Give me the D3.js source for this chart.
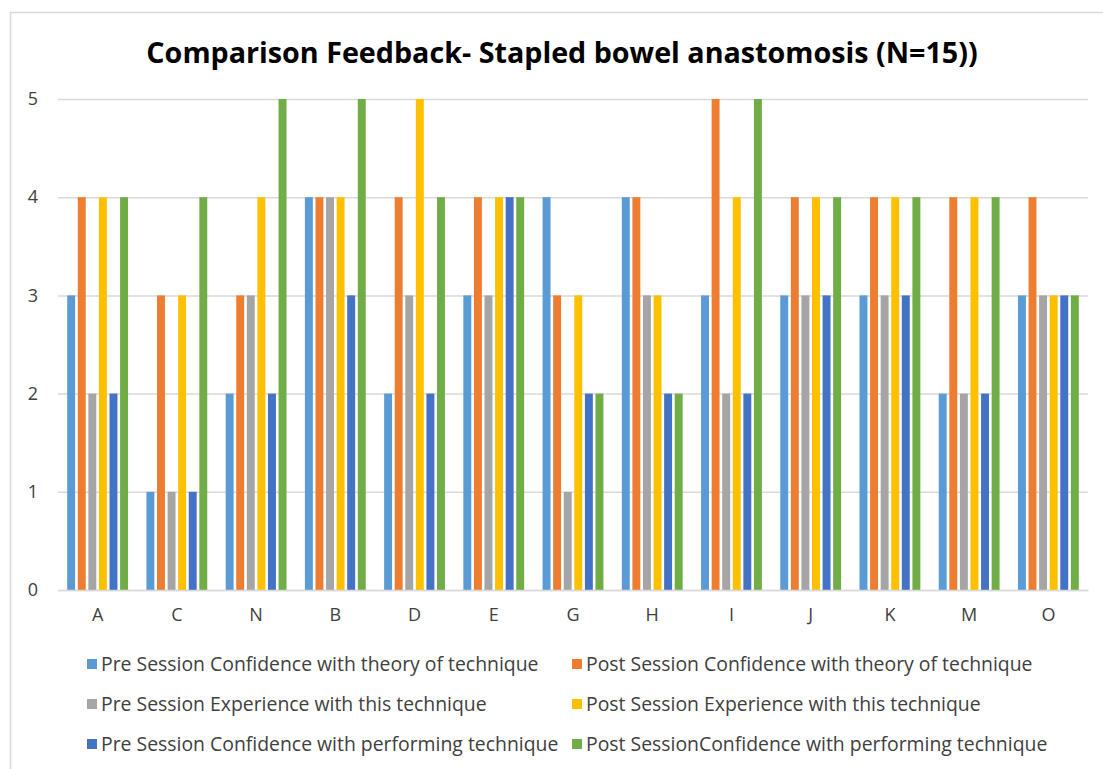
<!DOCTYPE html>
<html>
<head>
<meta charset="utf-8">
<script src="https://cdn.jsdelivr.net/npm/d3@7"></script>
<style>
  html, body { margin: 0; padding: 0; background: #fff; }
  svg { display: block; font-family: "Open Sans", Lato, sans-serif; }
</style>
</head>
<body>
<svg id="chart" width="1103" height="769"></svg>
<script>
// Participants (category order on the x axis)
const categories = ["A", "C", "N", "B", "D", "E", "G", "H", "I", "J", "K", "M", "O"];

// Series names and ratings (1-5) per participant
const seriesNames = [
  "Pre Session Confidence with theory of technique",
  "Post Session Confidence with theory of technique",
  "Pre Session Experience with this technique",
  "Post Session Experience with this technique",
  "Pre Session Confidence with performing technique",
  "Post SessionConfidence with performing technique"
];
const preTheory      = [3, 1, 2, 4, 2, 3, 4, 4, 3, 3, 3, 2, 3];
const postTheory     = [4, 3, 3, 4, 4, 4, 3, 4, 5, 4, 4, 4, 4];
const preExperience  = [2, 1, 3, 4, 3, 3, 1, 3, 2, 3, 3, 2, 3];
const postExperience = [4, 3, 4, 4, 5, 4, 3, 3, 4, 4, 4, 4, 3];
const prePerforming  = [2, 1, 2, 3, 2, 4, 2, 2, 2, 3, 3, 2, 3];
const postPerforming = [4, 4, 5, 5, 4, 4, 2, 2, 5, 4, 4, 4, 3];
const yTicks = [0, 1, 2, 3, 4, 5];

const seriesValues = [preTheory, postTheory, preExperience, postExperience, prePerforming, postPerforming];
const colors = ["#5B9BD5", "#ED7D31", "#A5A5A5", "#FFC000", "#4472C4", "#70AD47"];

const svg = d3.select("#chart");

// outer chart frame
svg.append("path")
  .attr("d", "M10.5,1103 L10.5,12.5 L1103,12.5")
  .attr("fill", "none")
  .attr("stroke", "#D9D9D9")
  .attr("stroke-width", 1.5);

svg.append("text")
  .attr("x", 562)
  .attr("y", 63)
  .attr("text-anchor", "middle")
  .attr("font-weight", 700)
  .attr("font-size", 28.7)
  .attr("fill", "#000")
  .text("Comparison Feedback- Stapled bowel anastomosis (N=15))");

const plot = { left: 58, right: 1088, top: 99, bottom: 590 };

const x0 = d3.scaleBand().domain(categories).range([plot.left, plot.right]).padding(0);
const groupPad = 9.2;
const x1 = d3.scaleBand()
  .domain(d3.range(seriesNames.length))
  .range([groupPad, x0.bandwidth() - groupPad])
  .paddingInner(0.25)
  .paddingOuter(0);
const y = d3.scaleLinear().domain([0, 5]).range([plot.bottom, plot.top]);

// horizontal gridlines + y labels
const yAxis = svg.append("g")
  .attr("transform", `translate(${plot.left},0)`)
  .call(d3.axisLeft(y).tickValues(yTicks).tickSize(-(plot.right - plot.left)).tickPadding(20).tickFormat(d3.format("d")));
yAxis.select(".domain").remove();
yAxis.selectAll(".tick line").attr("stroke", "#D9D9D9").attr("stroke-width", 1.5);
yAxis.selectAll(".tick text")
  .attr("font-size", 18)
  .attr("fill", "#404040")
  .attr("font-family", "'Open Sans', Lato, sans-serif");

// bars
const groups = svg.append("g").selectAll("g")
  .data(categories)
  .join("g")
  .attr("transform", d => `translate(${x0(d)},0)`);

groups.selectAll("rect")
  .data((c, ci) => seriesValues.map((vals, si) => ({ si, v: vals[ci] })))
  .join("rect")
  .attr("x", d => x1(d.si))
  .attr("width", x1.bandwidth())
  .attr("y", d => y(d.v))
  .attr("height", d => y(0) - y(d.v))
  .attr("fill", d => colors[d.si]);

// baseline and category labels
const xAxis = svg.append("g")
  .attr("transform", `translate(0,${plot.bottom})`)
  .call(d3.axisBottom(x0).tickSize(0).tickPadding(18));
xAxis.select(".domain").attr("stroke", "#D9D9D9").attr("stroke-width", 1.5);
xAxis.selectAll(".tick text")
  .attr("font-size", 18)
  .attr("fill", "#404040")
  .attr("font-family", "'Open Sans', Lato, sans-serif");

// legend: two columns, three rows
const legendCols = [87, 572];
const legendRows = [664, 704, 744];
const legend = svg.append("g").selectAll("g")
  .data(seriesNames)
  .join("g")
  .attr("transform", (d, i) => `translate(${legendCols[i % 2]},${legendRows[Math.floor(i / 2)]})`);
legend.append("rect")
  .attr("x", 0).attr("y", -5)
  .attr("width", 10).attr("height", 10)
  .attr("fill", (d, i) => colors[i]);
legend.append("text")
  .attr("x", 14)
  .attr("y", 0)
  .attr("dy", "0.35em")
  .attr("font-size", 19.4)
  .attr("fill", "#404040")
  .text(d => d);
</script>
</body>
</html>
